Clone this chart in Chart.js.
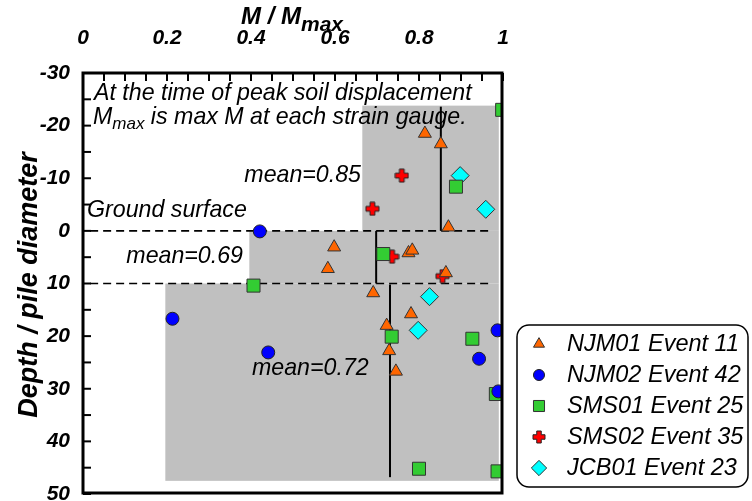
<!DOCTYPE html>
<html>
<head>
<meta charset="utf-8">
<script src="https://cdn.jsdelivr.net/npm/chart.js@4.4.1/dist/chart.umd.min.js"></script>
<style>
html,body{margin:0;padding:0;background:#fff;}
#wrap{width:752px;height:501px;position:relative;}
</style>
</head>
<body>
<div id="wrap"><canvas id="c" width="752" height="501"></canvas></div>
<script>
// ---- data ----
const xTickLabels = ['0', '0.2', '0.4', '0.6', '0.8', '1'];
const yTickLabels = ['-30', '-20', '-10', '0', '10', '20', '30', '40', '50'];

const seriesNames = ['NJM01 Event 11', 'NJM02 Event 42', 'SMS01 Event 25', 'SMS02 Event 35', 'JCB01 Event 23'];

const njm01X = [0.814, 0.852, 0.870, 0.598, 0.583, 0.775, 0.784, 0.864, 0.691, 0.781, 0.723, 0.729, 0.745];
const njm01Y = [-18.5, -16.5, -0.7, 3.1, 7.2, 4.2, 3.7, 8.0, 11.8, 15.8, 18.0, 22.8, 26.7];

const njm02X = [0.421, 0.213, 0.441, 0.987, 0.943, 0.989];
const njm02Y = [0.1, 16.7, 23.1, 18.9, 24.3, 30.5];

const sms01X = [0.998, 0.888, 0.715, 0.406, 0.735, 0.927, 0.983, 0.800, 0.987];
const sms01Y = [-23.0, -8.4, 4.4, 10.4, 20.1, 20.5, 31.0, 45.2, 45.7];

const sms02X = [0.759, 0.689, 0.736, 0.856];
const sms02Y = [-10.5, -4.2, 4.9, 8.6];

const jcb01X = [0.898, 0.959, 0.825, 0.798];
const jcb01Y = [-10.5, -4.1, 12.5, 18.9];

// shaded zones (x from, x to, depth from, depth to)
const zoneX0 = [0.665, 0.396, 0.196];
const zoneX1 = [0.990, 0.990, 0.990];
const zoneY0 = [-23.8, 0, 10];
const zoneY1 = [0, 10, 47.5];

// mean lines
const meanValues = ['0.85', '0.69', '0.72'];
const meanX = [0.852, 0.698, 0.731];
const meanY0 = [-23.6, 0, 10.2];
const meanY1 = [0, 10, 46.8];

// dashed reference depths
const refDepths = [0, 10];
const refX0 = 0.017, refX1 = 0.975;

function pairs(xs, ys) { return xs.map((x, i) => ({x: x, y: ys[i]})); }

// custom plus marker
function makePlus(size) {
  const c = document.createElement('canvas');
  c.width = size; c.height = size;
  const g = c.getContext('2d');
  const m = size / 2, a = size * 0.16, L = size / 2 - 1;
  g.beginPath();
  g.moveTo(m - a, m - L); g.lineTo(m + a, m - L); g.lineTo(m + a, m - a);
  g.lineTo(m + L, m - a); g.lineTo(m + L, m + a); g.lineTo(m + a, m + a);
  g.lineTo(m + a, m + L); g.lineTo(m - a, m + L); g.lineTo(m - a, m + a);
  g.lineTo(m - L, m + a); g.lineTo(m - L, m - a); g.lineTo(m - a, m - a);
  g.closePath();
  g.fillStyle = '#ff0000'; g.fill();
  g.lineWidth = 1; g.strokeStyle = '#222'; g.stroke();
  return c;
}
const plusImg = makePlus(15);
const plusImgSmall = makePlus(14);

const FONT = '"Liberation Sans", Arial, sans-serif';

const datasets = [
  {label: seriesNames[0], data: pairs(njm01X, njm01Y), pointStyle: 'triangle', pointRadius: 7.5, backgroundColor: '#ff6600', borderColor: '#333', borderWidth: 1},
  {label: seriesNames[1], data: pairs(njm02X, njm02Y), pointStyle: 'circle', pointRadius: 6.5, backgroundColor: '#0000ff', borderColor: '#222', borderWidth: 1},
  {label: seriesNames[2], data: pairs(sms01X, sms01Y), pointStyle: 'rect', pointRadius: 9.2, backgroundColor: '#33cc33', borderColor: '#333', borderWidth: 1},
  {label: seriesNames[3], data: pairs(sms02X, sms02Y), pointStyle: plusImg, pointRadius: 7, backgroundColor: '#ff0000', borderColor: '#222', borderWidth: 1},
  {label: seriesNames[4], data: pairs(jcb01X, jcb01Y), pointStyle: 'rectRot', pointRadius: 9, backgroundColor: '#00ffff', borderColor: '#333', borderWidth: 1}
];
datasets.forEach(d => { d.pointHoverRadius = d.pointRadius; d.showLine = false; });

const decor = {
  id: 'decor',
  beforeDatasetsDraw(chart) {
    const ctx = chart.ctx, xs = chart.scales.x, ys = chart.scales.y;
    const X = v => xs.getPixelForValue(v), Y = v => ys.getPixelForValue(v);
    ctx.save();
    // shaded zones
    ctx.fillStyle = '#c0c0c0';
    for (let i = 0; i < zoneX0.length; i++) {
      ctx.fillRect(X(zoneX0[i]), Y(zoneY0[i]), X(zoneX1[i]) - X(zoneX0[i]), Y(zoneY1[i]) - Y(zoneY0[i]));
    }
    // dashed lines
    ctx.strokeStyle = '#000'; ctx.lineWidth = 1.6; ctx.setLineDash([8, 5]);
    refDepths.forEach(d => {
      ctx.beginPath(); ctx.moveTo(X(refX0), Y(d)); ctx.lineTo(X(refX1), Y(d)); ctx.stroke();
    });
    ctx.setLineDash([]);
    // texts
    ctx.fillStyle = '#000';
    ctx.textBaseline = 'middle';
    const F = 'italic 23.2px ' + FONT;
    ctx.font = F;
    ctx.textAlign = 'left';
    ctx.fillText('At the time of peak soil displacement', 94, 94);
    ctx.fillText('M', 93, 118);
    let w = ctx.measureText('M').width;
    ctx.font = 'italic 17px ' + FONT;
    ctx.fillText('max', 93 + w, 124);
    let w2 = ctx.measureText('max').width;
    ctx.font = F;
    ctx.fillText(' is max M at each strain gauge.', 93 + w + w2, 118);
    ctx.fillText('Ground surface', 87, 211);
    ctx.textAlign = 'right';
    ctx.fillText('mean=' + meanValues[0], 361, 176);
    ctx.fillText('mean=' + meanValues[1], 243, 257);
    ctx.textAlign = 'left';
    ctx.fillText('mean=' + meanValues[2], 252, 369);
    // mean lines
    ctx.lineWidth = 2; ctx.strokeStyle = '#000';
    for (let i = 0; i < meanX.length; i++) {
      ctx.beginPath(); ctx.moveTo(X(meanX[i]), Y(meanY0[i])); ctx.lineTo(X(meanX[i]), Y(meanY1[i])); ctx.stroke();
    }
    ctx.restore();
  },
  afterDraw(chart) {
    const ctx = chart.ctx, a = chart.chartArea, xs = chart.scales.x, ys = chart.scales.y;
    ctx.save();
    // frame
    ctx.strokeStyle = '#000'; ctx.lineWidth = 3;
    ctx.strokeRect(a.left, a.top, a.right - a.left - 1, a.bottom - a.top - 1);
    // inward ticks
    ctx.lineWidth = 2;
    xs.ticks.forEach(t => {
      const p = xs.getPixelForValue(t.value);
      ctx.beginPath(); ctx.moveTo(p, a.top); ctx.lineTo(p, a.top + 8); ctx.stroke();
    });
    ys.ticks.forEach(t => {
      const p = ys.getPixelForValue(t.value);
      ctx.beginPath(); ctx.moveTo(a.left, p); ctx.lineTo(a.left + 8, p); ctx.stroke();
    });
    // axis titles
    ctx.fillStyle = '#000';
    ctx.textBaseline = 'alphabetic';
    ctx.textAlign = 'left';
    ctx.font = 'bold italic 24px ' + FONT;
    ctx.fillText('M / M', 241, 24);
    const tw = ctx.measureText('M / M').width;
    ctx.font = 'bold italic 21px ' + FONT;
    ctx.fillText('max', 241 + tw, 31);
    ctx.translate(37, 285);
    ctx.rotate(-Math.PI / 2);
    ctx.textAlign = 'center';
    ctx.font = 'bold italic 27px ' + FONT;
    ctx.fillText('Depth / pile diameter', 0, 0);
    ctx.restore();

    // legend
    ctx.save();
    const lx = 517, ly = 325, lw = 231, lh = 162, r = 12;
    ctx.beginPath();
    ctx.moveTo(lx + r, ly); ctx.lineTo(lx + lw - r, ly); ctx.arcTo(lx + lw, ly, lx + lw, ly + r, r);
    ctx.lineTo(lx + lw, ly + lh - r); ctx.arcTo(lx + lw, ly + lh, lx + lw - r, ly + lh, r);
    ctx.lineTo(lx + r, ly + lh); ctx.arcTo(lx, ly + lh, lx, ly + lh - r, r);
    ctx.lineTo(lx, ly + r); ctx.arcTo(lx, ly, lx + r, ly, r);
    ctx.closePath();
    ctx.fillStyle = '#fff'; ctx.fill();
    ctx.lineWidth = 1.5; ctx.strokeStyle = '#000'; ctx.stroke();
    const rowsY = [344, 375, 406, 437, 468];
    chart.data.datasets.forEach((ds, i) => {
      const y = rowsY[i];
      const style = ds.pointStyle === plusImg ? plusImgSmall : ds.pointStyle;
      ctx.fillStyle = ds.backgroundColor; ctx.strokeStyle = ds.borderColor; ctx.lineWidth = 1;
      Chart.helpers.drawPoint(ctx, {
        pointStyle: style, radius: ds.pointRadius * 0.85, rotation: 0, borderWidth: 1
      }, 539, y);
      ctx.fillStyle = '#000';
      ctx.font = 'italic 23.5px ' + FONT;
      ctx.textAlign = 'left'; ctx.textBaseline = 'middle';
      ctx.fillText(ds.label, 567, y);
    });
    ctx.restore();
  }
};

new Chart(document.getElementById('c'), {
  type: 'scatter',
  data: {datasets: datasets},
  options: {
    responsive: false,
    animation: false,
    layout: {autoPadding: false, padding: {left: 0, right: 249, top: 0, bottom: 7}},
    plugins: {legend: {display: false}, tooltip: {enabled: false}},
    scales: {
      x: {
        type: 'linear', position: 'top', min: 0, max: 1,
        grid: {display: false, drawTicks: false},
        border: {display: false},
        afterFit: s => { s.height = 73; s.paddingLeft = 0; s.paddingRight = 0; },
        ticks: {
          stepSize: 0.05, autoSkip: false, maxRotation: 0, padding: 22, color: '#000',
          font: {family: FONT, size: 21, style: 'italic', weight: 'bold'},
          callback: v => { const i = Math.round(v / 0.05); return i % 4 === 0 ? xTickLabels[i / 4] : ''; }
        }
      },
      y: {
        type: 'linear', position: 'left', min: -30, max: 50, reverse: true,
        grid: {display: false, drawTicks: false},
        border: {display: false},
        afterFit: s => { s.width = 83; s.paddingTop = 0; s.paddingBottom = 0; },
        ticks: {
          stepSize: 5, autoSkip: false, padding: 13, color: '#000',
          font: {family: FONT, size: 21, style: 'italic', weight: 'bold'},
          callback: v => { const i = Math.round((v + 30) / 5); return i % 2 === 0 ? yTickLabels[i / 2] : ''; }
        }
      }
    }
  },
  plugins: [decor]
});
</script>
</body>
</html>
